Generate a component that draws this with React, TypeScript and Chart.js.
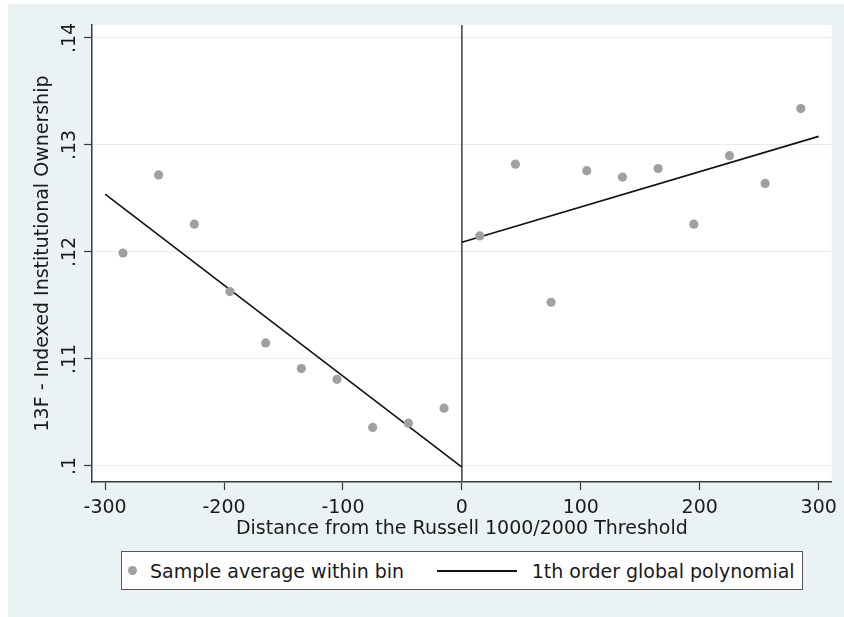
import React, { useEffect, useRef } from "react";
import { Chart, registerables } from "chart.js";

Chart.register(...registerables);

// ---- data ----
const binCenters = [-285, -255, -225, -195, -165, -135, -105, -75, -45, -15, 15, 45, 75, 105, 135, 165, 195, 225, 255, 285];
const binMeans = [0.1199, 0.1272, 0.1226, 0.1163, 0.1115, 0.1091, 0.1081, 0.1036, 0.104, 0.1054, 0.1215, 0.1282, 0.1153, 0.1276, 0.127, 0.1278, 0.1226, 0.129, 0.1264, 0.1334];
const leftFitX = [-300, 0];
const leftFitY = [0.1254, 0.0999];
const rightFitX = [0, 300];
const rightFitY = [0.1209, 0.1308];
const threshold = 0;
const xTicks = [-300, -200, -100, 0, 100, 200, 300];
const yTicks = [0.1, 0.11, 0.12, 0.13, 0.14];
const yTickLabels = [".1", ".11", ".12", ".13", ".14"];
const xTitle = "Distance from the Russell 1000/2000 Threshold";
const yTitle = "13F - Indexed Institutional Ownership";
const legendLabels = ["Sample average within bin", "1th order global polynomial"];

const FONT = "'DejaVu Sans', 'Liberation Sans', Arial, sans-serif";
const TEXT = "#1a1a1a";
const BG = "#EAF2F3";
const AXIS = "#3a3a3a";
const DOT = "#A0A0A0";

const bgPlugin = {
  id: "stataBg",
  beforeDraw(chart: any) {
    const { ctx, chartArea } = chart;
    ctx.save();
    ctx.fillStyle = "#ffffff";
    ctx.fillRect(0, 0, chart.width, chart.height);
    ctx.fillStyle = BG;
    ctx.fillRect(8, 4, chart.width - 8, chart.height - 4);
    ctx.fillStyle = "#ffffff";
    ctx.fillRect(chartArea.left, chartArea.top, chartArea.right - chartArea.left, chartArea.bottom - chartArea.top);
    ctx.restore();
  },
  beforeDatasetsDraw(chart: any) {
    const { ctx, chartArea, scales } = chart;
    const x = scales.x.getPixelForValue(threshold);
    ctx.save();
    ctx.strokeStyle = "#4a4a4a";
    ctx.lineWidth = 1.6;
    ctx.beginPath();
    ctx.moveTo(x, chartArea.top);
    ctx.lineTo(x, chartArea.bottom);
    ctx.stroke();
    ctx.restore();
  },
};

export default function App() {
  const ref = useRef<HTMLCanvasElement>(null);
  useEffect(() => {
    if (!ref.current) return;
    Chart.defaults.font.family = FONT;
    const chart = new Chart(ref.current, {
      type: "scatter",
      data: {
        datasets: [
          {
            label: legendLabels[0],
            data: binCenters.map((x, i) => ({ x, y: binMeans[i] })),
            backgroundColor: DOT,
            borderWidth: 0,
            pointRadius: 4.6,
            pointHoverRadius: 4.6,
          },
          {
            label: legendLabels[1],
            data: leftFitX.map((x, i) => ({ x, y: leftFitY[i] })),
            showLine: true,
            borderColor: "#111",
            borderWidth: 1.6,
            pointRadius: 0,
          },
          {
            label: legendLabels[1] + " (right)",
            data: rightFitX.map((x, i) => ({ x, y: rightFitY[i] })),
            showLine: true,
            borderColor: "#111",
            borderWidth: 1.6,
            pointRadius: 0,
          },
        ],
      },
      options: {
        responsive: false,
        animation: false,
        devicePixelRatio: 1,
        layout: { padding: { left: 8, top: 25, right: 11, bottom: 0 } },
        plugins: { legend: { display: false }, tooltip: { enabled: false } },
        scales: {
          x: {
            type: "linear",
            min: -311,
            max: 311,
            afterBuildTicks: (s: any) => {
              s.ticks = xTicks.map((v) => ({ value: v }));
            },
            afterFit: (s: any) => {
              s.height = 135;
            },
            grid: {
              drawOnChartArea: false,
              drawTicks: true,
              tickLength: 8,
              tickColor: AXIS,
              tickWidth: 1.2,
            },
            border: { display: true, color: AXIS, width: 1.5 },
            ticks: {
              padding: 7,
              color: TEXT,
              font: { size: 19, family: FONT },
              maxRotation: 0,
              autoSkip: false,
              callback: (v: any) => String(v),
            },
            title: {
              display: true,
              text: xTitle,
              color: TEXT,
              font: { size: 19, family: FONT },
              padding: { top: 0, bottom: 77 },
            },
          },
          y: {
            type: "linear",
            min: 0.0985,
            max: 0.14121,
            afterBuildTicks: (s: any) => {
              s.ticks = yTicks.map((v) => ({ value: v }));
            },
            afterFit: (s: any) => {
              s.width = 84;
            },
            grid: {
              color: "#E4EDF0",
              lineWidth: 1,
              drawTicks: true,
              tickLength: 8,
              tickColor: AXIS,
              tickWidth: 1.2,
            },
            border: { display: true, color: AXIS, width: 1.5 },
            ticks: {
              padding: -1,
              color: TEXT,
              font: { size: 19, family: FONT },
              minRotation: 90,
              maxRotation: 90,
              crossAlign: "center",
              autoSkip: false,
              callback: (v: any) => {
                const i = yTicks.findIndex((t) => Math.abs(t - v) < 1e-9);
                return i >= 0 ? yTickLabels[i] : "";
              },
            },
            title: {
              display: true,
              text: yTitle,
              color: TEXT,
              font: { size: 19, family: FONT },
              padding: { top: 24, bottom: 0 },
            },
          },
        },
      },
      plugins: [bgPlugin],
    });
    return () => chart.destroy();
  }, []);

  const txt: React.CSSProperties = {
    position: "absolute",
    fontFamily: FONT,
    fontSize: 19,
    lineHeight: "22px",
    color: TEXT,
    whiteSpace: "nowrap",
  };

  return (
    <div style={{ position: "fixed", left: 0, top: 0, width: 844, height: 617, overflow: "hidden" }}>
      <canvas ref={ref} width={844} height={617} style={{ position: "absolute", left: 0, top: 0, width: 844, height: 617 }} />
      <div
        style={{
          position: "absolute",
          left: 121,
          top: 551,
          width: 682,
          height: 39,
          boxSizing: "border-box",
          border: "1.5px solid #555",
          background: "#fff",
        }}
      />
      <div style={{ position: "absolute", left: 128.2, top: 566.4, width: 9, height: 9, borderRadius: "50%", background: DOT }} />
      <div style={{ ...txt, left: 150, top: 560 }}>{legendLabels[0]}</div>
      <div style={{ position: "absolute", left: 437, top: 570, width: 80, height: 1.5, background: "#111" }} />
      <div style={{ ...txt, left: 531.7, top: 560 }}>{legendLabels[1]}</div>
    </div>
  );
}
